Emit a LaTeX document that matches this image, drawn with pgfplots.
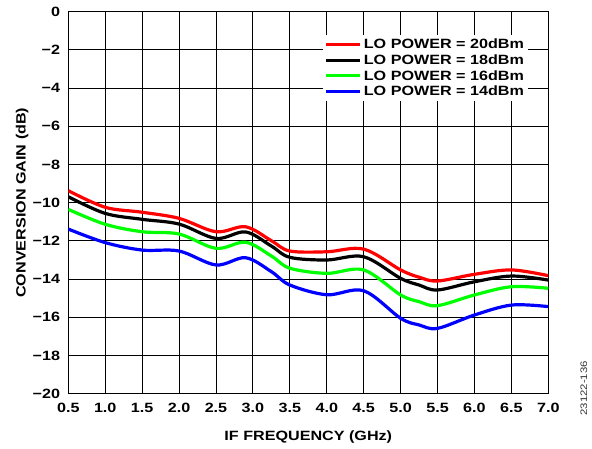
\documentclass[border=0pt]{standalone}
\usepackage{fontspec}
\setmainfont{Liberation Sans}[FakeStretch=1.2]
\usepackage{pgfplots}
\pgfplotsset{compat=1.18}
\definecolor{cred}{RGB}{255,0,0}
\definecolor{cgreen}{RGB}{0,255,0}
\definecolor{cblue}{RGB}{0,0,255}
\begin{document}
\begin{tikzpicture}[font=\fontsize{13.5}{15}\selectfont\bfseries]
\useasboundingbox (-68.3bp,-55.3bp) rectangle (523.7bp,393.7bp);
\begin{axis}[
  width=480bp, height=382bp, scale only axis,
  xmin=0.5, xmax=7, ymin=-20, ymax=0,
  xtick={0.5,1,1.5,2,2.5,3,3.5,4,4.5,5,5.5,6,6.5,7},
  xticklabels={0.5,1.0,1.5,2.0,2.5,3.0,3.5,4.0,4.5,5.0,5.5,6.0,6.5,7.0},
  ytick={-20,-18,-16,-14,-12,-10,-8,-6,-4,-2,0},
  yticklabels={−20,−18,−16,−14,−12,−10,−8,−6,−4,−2,0},
  grid=major, major grid style={black, line width=0.9bp},
  axis line style={line width=1.4bp},
  major tick length=0pt,
  tick label style={inner sep=0pt},
  xticklabel shift=9.5bp, yticklabel shift=8bp,
  xlabel={IF FREQUENCY (GHz)},
  ylabel={CONVERSION GAIN (dB)},
  xlabel style={at={(axis description cs:0.5,-0.113)}, anchor=center},
  ylabel style={at={(axis description cs:-0.096,0.5)}, anchor=center, rotate=0},
  legend style={at={(axis description cs:0.958,0.94)}, anchor=north east,
    draw=none, fill=white, inner sep=2bp, row sep=0.5bp,
    font=\fontsize{13.5}{15}\selectfont\bfseries},
  legend cell align=left,
  legend image code/.code={\draw[#1] (0bp,0bp) -- (34bp,0bp);},
  every axis plot/.append style={line width=3.2bp, smooth, tension=0.55, no marks},
]
\addplot[cred] coordinates {(0.5,-9.37) (1.0,-10.24) (1.5,-10.5) (2.0,-10.82) (2.5,-11.52) (2.9,-11.26) (3.25,-11.99) (3.5,-12.53) (4.0,-12.57) (4.5,-12.43) (5.0,-13.52) (5.25,-13.9) (5.5,-14.1) (6.0,-13.75) (6.5,-13.52) (7.0,-13.82)};
\addlegendentry{LO POWER = 20dBm}
\addplot[black] coordinates {(0.5,-9.69) (1.0,-10.56) (1.5,-10.87) (2.0,-11.12) (2.5,-11.87) (2.9,-11.53) (3.25,-12.27) (3.5,-12.86) (4.0,-13.0) (4.5,-12.83) (5.0,-13.96) (5.25,-14.31) (5.5,-14.57) (6.0,-14.14) (6.5,-13.84) (7.0,-14.05)};
\addlegendentry{LO POWER = 18dBm}
\addplot[cgreen] coordinates {(0.5,-10.35) (1.0,-11.13) (1.5,-11.52) (2.0,-11.64) (2.5,-12.39) (2.9,-12.07) (3.25,-12.79) (3.5,-13.43) (4.0,-13.7) (4.5,-13.52) (5.0,-14.83) (5.25,-15.18) (5.5,-15.39) (6.0,-14.83) (6.5,-14.4) (7.0,-14.48)};
\addlegendentry{LO POWER = 16dBm}
\addplot[cblue] coordinates {(0.5,-11.38) (1.0,-12.09) (1.5,-12.48) (2.0,-12.53) (2.5,-13.26) (2.9,-12.88) (3.25,-13.61) (3.5,-14.31) (4.0,-14.82) (4.5,-14.61) (5.0,-16.05) (5.25,-16.4) (5.5,-16.58) (6.0,-15.88) (6.5,-15.36) (7.0,-15.44)};
\addlegendentry{LO POWER = 14dBm}
\end{axis}
\node[rotate=90, anchor=north west, inner sep=0pt, font=\fontsize{9.5}{10}\selectfont\mdseries, text=black!80] at (512bp,-22bp) {23122-136};
\end{tikzpicture}
\end{document}
